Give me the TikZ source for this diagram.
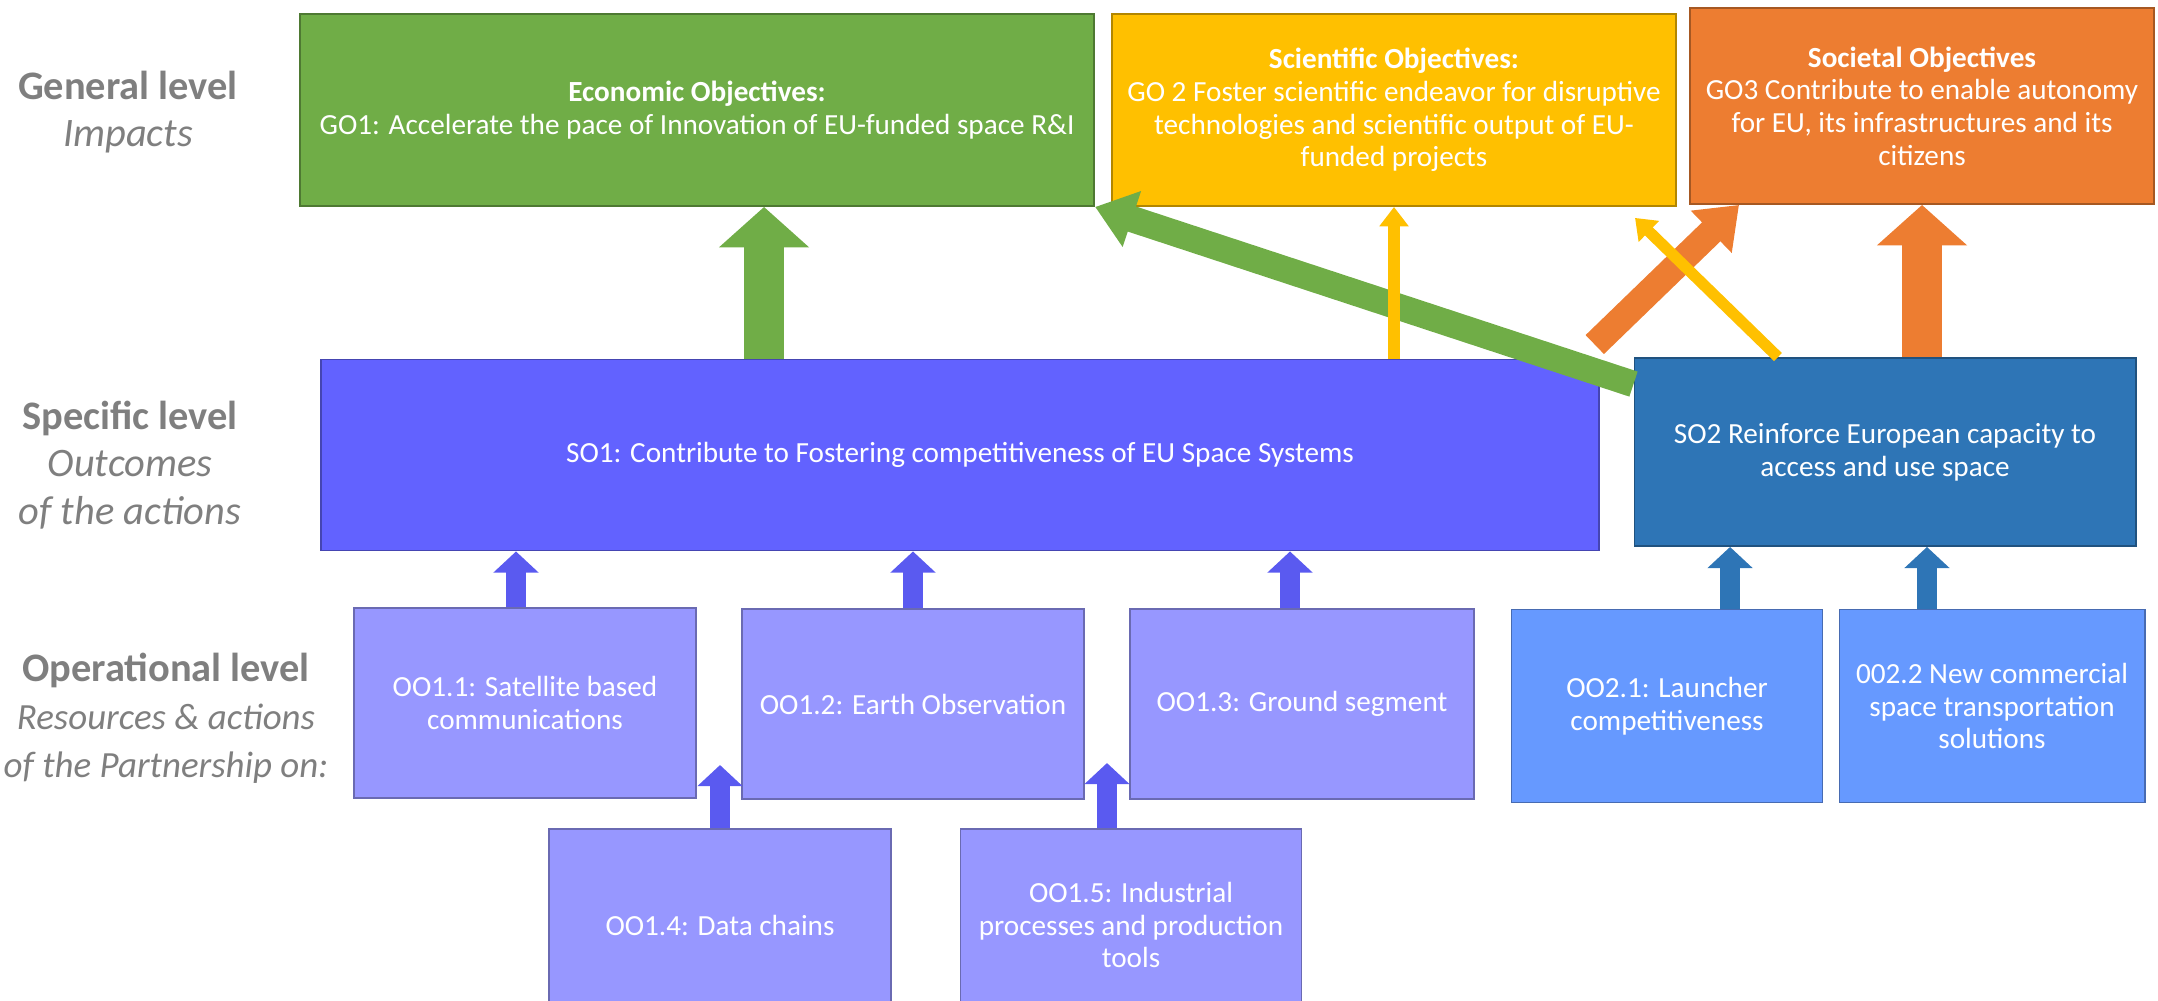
\documentclass[tikz,border=0pt]{standalone}
\usepackage{fontspec}
\setmainfont{Carlito}
\usetikzlibrary{arrows.meta}
\definecolor{ecogreen}{HTML}{70AD47}
\definecolor{sciyellow}{HTML}{FFC000}
\definecolor{socorange}{HTML}{ED7D31}
\definecolor{soblue}{HTML}{6262FF}
\definecolor{sotwoblue}{HTML}{2E75B6}
\definecolor{ooblue}{HTML}{9797FF}
\definecolor{ootwoblue}{HTML}{6699FF}
\definecolor{upblue}{HTML}{5A5AF0}
\definecolor{lvlgray}{HTML}{7F7F7F}

\begin{document}
\begin{tikzpicture}[x=0.01cm,y=-0.01cm,
    box/.style={fill=#1, draw=#1!70!black, line width=0.5pt, text=white,
      align=center, inner sep=0pt, font=\fontsize{8.3}{9.3}\selectfont},
    lvl/.style={text=lvlgray, align=center, font=\fontsize{11.5}{13.6}\selectfont},
    fat/.style={draw=#1, line width=11.5pt, -{Triangle[width=25pt,length=11.5pt]}},
    slim/.style={draw=#1, line width=7.5pt, -{Triangle[width=16pt,length=11pt]}},
    thin/.style={draw=#1, line width=3.2pt, -{Triangle[width=8pt,length=5.5pt]}},
    up/.style={draw=#1, line width=5.8pt, -{Triangle[width=12.5pt,length=6pt]}}]
  \useasboundingbox (0,0) rectangle (2158,1000);
  \clip (0,0) rectangle (2158,1000);

  \node[lvl] (lgen) at (128,112) {\textbf{General level}\\\textit{Impacts}};
  \node[lvl] (lspec) at (130,465) {\textbf{Specific level}\\\textit{Outcomes}\\\textit{of the actions}};
  \node[lvl] (lop) at (166,718) {\textbf{Operational level}\\{\fontsize{10.5}{13.6}\selectfont\itshape Resources \& actions}\\{\fontsize{10.5}{13.6}\selectfont\itshape of the Partnership on:}};

  \node[box=ecogreen, minimum width=7.94cm, minimum height=1.92cm] (go1) at (697,110)
    {\textbf{Economic Objectives:}\\GO1: Accelerate the pace of  Innovation of EU-funded  space R\&I};
  \node[box=sciyellow, minimum width=5.64cm, minimum height=1.92cm] (go2) at (1394,110)
    {\textbf{Scientific Objectives:}\\GO 2 Foster scientific endeavor for disruptive\\technologies and scientific output of EU-\\funded projects};
  \node[box=socorange, minimum width=4.64cm, minimum height=1.96cm] (go3) at (1922,106)
    {\textbf{Societal Objectives}\\GO3 Contribute to enable autonomy\\for EU, its infrastructures and its\\citizens};

  \node[box=soblue, minimum width=12.77cm, minimum height=1.91cm] (so1) at (960,455)
    {SO1: Contribute to Fostering competitiveness of EU Space Systems};
  \node[box=sotwoblue, minimum width=5.01cm, minimum height=1.88cm] (so2) at (1885,452)
    {SO2 Reinforce European capacity to\\access and use space};

  \node[box=ooblue, minimum width=3.42cm, minimum height=1.90cm] (oo11) at (525,703)
    {OO1.1: Satellite based\\communications};
  \node[box=ooblue, minimum width=3.42cm, minimum height=1.90cm] (oo12) at (913,704)
    {OO1.2: Earth Observation};
  \node[box=ooblue, minimum width=3.44cm, minimum height=1.90cm] (oo13) at (1302,704)
    {OO1.3: Ground segment};
  \node[box=ootwoblue, minimum width=3.11cm, minimum height=1.93cm] (oo21) at (1667,706)
    {OO2.1: Launcher\\competitiveness};
  \node[box=ootwoblue, minimum width=3.05cm, minimum height=1.93cm] (oo22) at (1992,706)
    {002.2 New commercial\\space transportation\\solutions};
  \node[box=ooblue, minimum width=3.42cm, minimum height=1.92cm] (oo14) at (720,925)
    {OO1.4: Data chains};
  \node[box=ooblue, minimum width=3.41cm, minimum height=1.92cm] (oo15) at (1131,925)
    {OO1.5: Industrial\\processes and production\\tools};

  \draw[fat=ecogreen] ([xshift=0.67cm]go1.south |- so1.north) -- ([xshift=0.67cm]go1.south);
  \draw[fat=socorange] (go3.south |- so2.north) -- (go3.south);
  \draw[slim=socorange] ([xshift=-0.05cm,yshift=0.14cm]so1.north east) -- ([xshift=0.5cm]go3.south west);
  \draw[slim=ecogreen] ([yshift=-0.27cm]so2.north west) -- (go1.south east);
  \draw[thin=sciyellow] (go2.south |- so1.north) -- (go2.south);
  \draw[thin=sciyellow] ([xshift=-1.07cm]so2.north) -- ([xshift=-0.42cm,yshift=-0.11cm]go2.south east);

  \draw[up=upblue] ([xshift=-0.09cm]oo11.north) -- ([xshift=-0.09cm]oo11.north |- so1.south);
  \draw[up=upblue] (oo12.north) -- (oo12.north |- so1.south);
  \draw[up=upblue] ([xshift=-0.12cm]oo13.north) -- ([xshift=-0.12cm]oo13.north |- so1.south);
  \draw[up=sotwoblue] ([xshift=0.63cm]oo21.north) -- ([xshift=0.63cm]oo21.north |- so2.south);
  \draw[up=sotwoblue] ([xshift=-0.65cm]oo22.north) -- ([xshift=-0.65cm]oo22.north |- so2.south);
  \draw[up=upblue] (oo14.north) -- ([yshift=0.63cm]oo14.north);
  \draw[up=upblue] ([xshift=-0.24cm]oo15.north) -- ([xshift=-0.24cm,yshift=0.65cm]oo15.north);
\end{tikzpicture}
\end{document}
